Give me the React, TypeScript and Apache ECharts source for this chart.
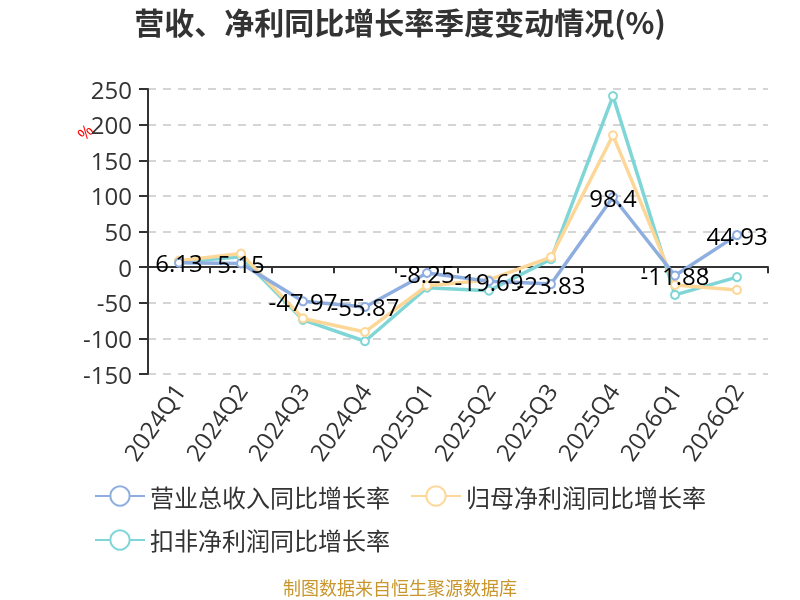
import React, { useEffect, useRef } from "react";
import * as echarts from "echarts";

const categories = ["2024Q1", "2024Q2", "2024Q3", "2024Q4", "2025Q1", "2025Q2", "2025Q3", "2025Q4", "2026Q1", "2026Q2"];
const revenueGrowth = [6.13, 5.15, -47.97, -55.87, -8.25, -19.69, -23.83, 98.4, -11.88, 44.93];
const netProfitGrowth = [9, 19, -72, -91, -26, -18, 14, 185, -25, -32];
const deductedProfitGrowth = [7, 14.5, -74, -104, -29, -33, 11, 240, -39, -14];
const seriesNames = ["营业总收入同比增长率", "归母净利润同比增长率", "扣非净利润同比增长率"];
const yTicks = { min: -150, max: 250, interval: 50 };

const FONT = "'Noto Sans CJK SC', 'Noto Sans', sans-serif";
const NUMFONT = "'Open Sans', 'Noto Sans CJK SC', sans-serif";

export default function App() {
  const ref = useRef<HTMLDivElement>(null);
  useEffect(() => {
    if (!ref.current) return;
    const chart = echarts.init(ref.current, undefined, { renderer: "svg" });
    const colors = ["#8eaee0", "#fdd797", "#80d6d6"];
    const mk = (name: string, data: number[], i: number, label: boolean) => ({
      name,
      type: "line",
      data,
      xAxisIndex: 0,
      symbol: "emptyCircle",
      symbolSize: 8,
      lineStyle: { width: 3.5, color: colors[i] },
      itemStyle: { color: colors[i], borderWidth: 2 },
      z: 3 - i,
      label: label
        ? { show: true, position: "inside", fontSize: 24, color: "#000", fontFamily: NUMFONT }
        : { show: false },
    });
    chart.setOption({
      animation: false,
      textStyle: { fontFamily: FONT },
      title: {
        text: "营收、净利同比增长率季度变动情况(%)",
        left: "center",
        top: 1,
        textStyle: { fontSize: 30, fontWeight: "bold", color: "#333", fontFamily: FONT },
      },
      legend: {
        left: "center",
        top: 479,
        itemWidth: 50,
        itemHeight: 24,
        itemGap: 20,
        textStyle: { fontSize: 24, lineHeight: 21, color: "#333", fontFamily: FONT },
        data: seriesNames,
      },
      grid: { left: 148, right: 32, top: 89, bottom: 226, containLabel: false },
      xAxis: [
        {
          type: "category",
          data: categories,
          position: "bottom",
          axisLine: { show: false, onZero: false },
          axisTick: { show: false },
          axisLabel: { rotate: 55, fontSize: 24, color: "#333", margin: 12, fontFamily: NUMFONT },
          splitLine: { show: false },
        },
        {
          type: "category",
          data: categories,
          position: "bottom",
          axisLine: { show: true, onZero: true, lineStyle: { color: "#333", width: 2 } },
          axisTick: { show: true, length: 6, lineStyle: { color: "#333", width: 2 } },
          axisLabel: { show: false },
          splitLine: { show: false },
        },
      ],
      yAxis: {
        type: "value",
        min: yTicks.min,
        max: yTicks.max,
        interval: yTicks.interval,
        axisLine: { show: true, lineStyle: { color: "#333", width: 2 } },
        axisTick: { show: true, length: 9, lineStyle: { color: "#333", width: 2 } },
        axisLabel: { fontSize: 24, color: "#333", margin: 16, fontFamily: NUMFONT },
        splitLine: { show: true, lineStyle: { type: [8, 7], color: "#c8c8c8", width: 1.5 } },
      },
      graphic: [
        {
          type: "text",
          x: 85,
          y: 132,
          rotation: Math.PI / 4,
          style: { text: "%", fill: "#ff0000", fontSize: 17, fontFamily: NUMFONT, align: "center", verticalAlign: "middle" },
        },
        {
          type: "text",
          left: "center",
          top: 578,
          style: { text: "制图数据来自恒生聚源数据库", fill: "#c8962d", fontSize: 18, fontFamily: FONT },
        },
      ],
      series: [
        mk(seriesNames[0], revenueGrowth, 0, true),
        mk(seriesNames[1], netProfitGrowth, 1, false),
        mk(seriesNames[2], deductedProfitGrowth, 2, false),
      ],
    });
    return () => chart.dispose();
  }, []);
  return <div ref={ref} style={{ position: "fixed", left: 0, top: 0, width: 800, height: 600 }} />;
}
